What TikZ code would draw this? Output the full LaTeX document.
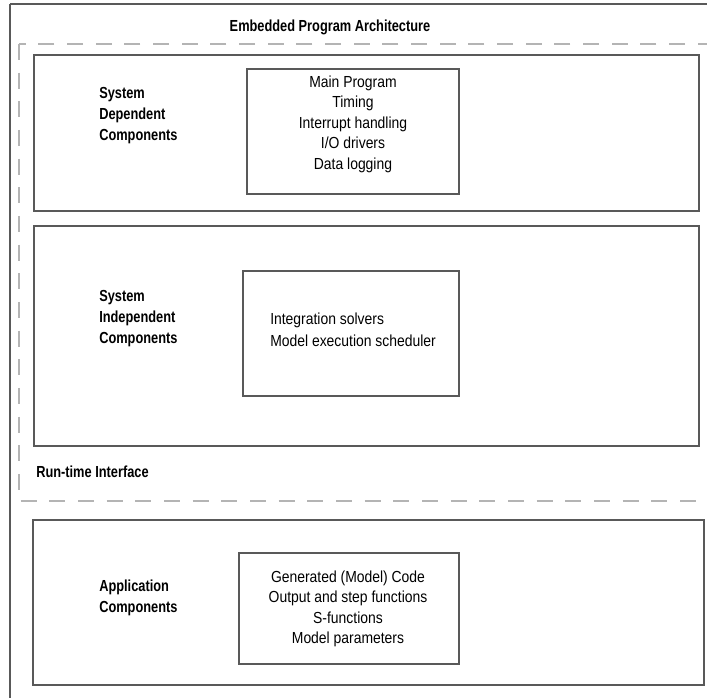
\documentclass[tikz,border=0pt]{standalone}
\usepackage{fontspec}
\setmainfont{Liberation Sans}[FakeStretch=0.87,BoldFeatures={FakeStretch=0.8}]
\usepackage{xcolor}
\usepackage{tikz}

\definecolor{linegray}{HTML}{595959}
\definecolor{dashgray}{HTML}{B4B4B4}

\tikzset{
  box/.style={draw=linegray, line width=1.6pt},
  rtibox/.style={draw=dashgray, line width=1.5pt, dash pattern=on 12pt off 9.5pt},
  heading/.style={font=\fontsize{12}{15.8}\selectfont\bfseries, align=left, inner sep=0pt},
  items/.style={font=\fontsize{12}{15.4}\selectfont, inner sep=0pt}
}

\begin{document}
\begin{tikzpicture}[x=0.75pt, y=-0.75pt]
  \useasboundingbox (0,0) rectangle (707,698);
  \clip (0,0) rectangle (707,698);
  % frames
  \draw[box] (10,4) -- (720,4);
  \draw[box] (10,4) -- (10,720);
  \draw[rtibox] (19,44) rectangle (712,501);
  \draw[box] (34,55) rectangle (699,211);
  \draw[box] (34,226) rectangle (699,446);
  \draw[box] (33,520) rectangle (704,685);
  \draw[box] (247,69) rectangle (459,194);
  \draw[box] (243,271) rectangle (459,396);
  \draw[box] (239,553) rectangle (459,664);
  % labels
  \node[heading] (title) at (330,27) {Embedded Program Architecture};
  \node[heading, anchor=west] (deplabel) at (99,116) {System\\Dependent\\Components};
  \node[heading, anchor=west] (indeplabel) at (99,319) {System\\Independent\\Components};
  \node[heading, anchor=west] (rtilabel) at (36,472) {Run-time Interface};
  \node[heading, anchor=west] (applabel) at (99,598) {Application\\Components};
  % contents
  \node[items, align=center] (deplist) at (353,124)
    {Main Program\\Timing\\Interrupt handling\\I/O drivers\\Data logging};
  \node[items, align=left, anchor=west] (indeplist) at (270,330)
    {Integration solvers\\[1pt]Model execution scheduler};
  \node[items, align=center] (applist) at (348,609)
    {Generated (Model) Code\\Output and step functions\\S-functions\\Model parameters};
\end{tikzpicture}
\end{document}
